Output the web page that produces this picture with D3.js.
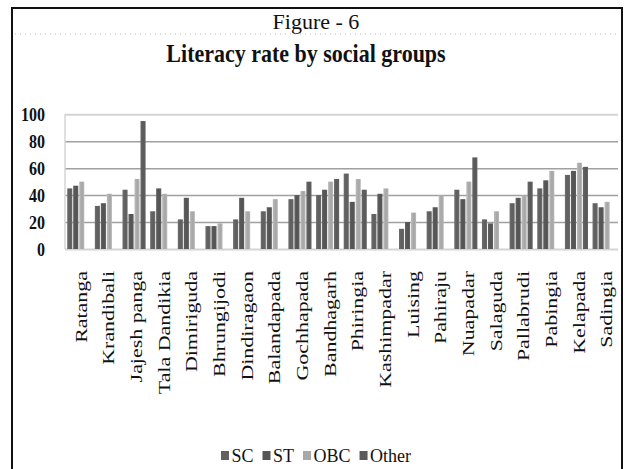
<!DOCTYPE html>
<html><head><meta charset="utf-8">
<script src="https://cdn.jsdelivr.net/npm/d3@7"></script>
<style>body{margin:0;background:#fff} svg{display:block}</style>
</head><body>
<svg id="c" width="625" height="469"></svg>
<script>
const categories = ["Ratanga","Krandibali","Jajesh panga","Tala Dandikia","Dimiriguda","Bhrungijodi","Dindiragaon","Balandapada","Gochhapada","Bandhagarh","Phiringia","Kashimpadar","Luising","Pahiraju","Nuapadar","Salaguda","Pallabrudi","Pabingia","Kelapada","Sadingia"];
const seriesNames = ["SC","ST","OBC","Other"];
const scValues = [45,32,44,28,22,17,22,28,37,40,56,26,15,28,44,22,34,45,55,34];
const stValues = [47,34,26,45,38,17,38,31,40,44,35,41,20,31,37,19,38,51,58,31];
const obcValues = [50,41,52,41,28,19,28,37,43,50,52,45,27,40,50,28,40,58,64,35];
const otherValues = [null,null,95,null,null,null,null,null,50,52,44,null,null,null,68,null,50,null,61,null];
const yTicks = [0,20,40,60,80,100];
const figureText = "Figure - 6";
const titleText = "Literacy rate by social groups";

const seriesValues = [scValues, stValues, obcValues, otherValues];
const seriesColors = ["#606060","#555555","#a8a8a8","#5a5a5a"];
const serif = "'Liberation Serif','Times New Roman',serif";

const svg = d3.select("#c");
const plot = {left:65, right:618, top:114.3, bottom:249};

// gradients
const defs = svg.append("defs");
seriesColors.forEach((c,i)=>{
  const g = defs.append("linearGradient").attr("id","g"+i).attr("x1","0").attr("x2","1").attr("y1","0").attr("y2","0");
  const lc = d3.color(c).brighter(0.35).formatHex();
  g.append("stop").attr("offset","0").attr("stop-color",lc);
  g.append("stop").attr("offset","0.45").attr("stop-color",c);
  g.append("stop").attr("offset","0.7").attr("stop-color",c);
  g.append("stop").attr("offset","1").attr("stop-color",lc);
});

// frame
svg.append("rect").attr("x",12).attr("y",8).attr("width",610).attr("height",480)
  .attr("fill","none").attr("stroke","#111").attr("stroke-width",2);

// header
svg.append("text").attr("x",316).attr("y",29).attr("text-anchor","middle")
  .style("font-family",serif).style("font-size","22px").attr("fill","#111").text(figureText);
svg.append("line").attr("x1",15).attr("x2",620).attr("y1",34).attr("y2",34)
  .attr("stroke","#bbb").attr("stroke-width",1).attr("stroke-dasharray","1,4");
svg.append("text").attr("transform","translate(306,62) scale(1,1.18)").attr("text-anchor","middle")
  .style("font-family",serif).style("font-size","22px").style("font-weight","bold").attr("fill","#111").text(titleText);

const x0 = d3.scaleBand().domain(categories).range([plot.left, plot.right]);
const x1 = d3.scaleBand().domain(seriesNames).range([1.8, 25.8]);
const y = d3.scaleLinear().domain([0,100]).range([plot.bottom, plot.top]);

// gridlines
const grid = svg.append("g").attr("transform",`translate(${plot.left},0)`)
  .call(d3.axisLeft(y).tickValues(yTicks).tickSize(-(plot.right-plot.left)).tickFormat(""));
grid.select(".domain").remove();
grid.selectAll(".tick line")
  .attr("stroke", d => (d===0||d===100) ? "#d4d4d4" : "#a0a0a0")
  .attr("stroke-width", d => (d===0||d===100) ? 2 : 1.5);
svg.append("line").attr("x1",plot.left).attr("x2",plot.left).attr("y1",plot.top).attr("y2",plot.bottom)
  .attr("stroke","#d4d4d4").attr("stroke-width",1.5);

// y labels
const yl = svg.append("g").attr("transform",`translate(${plot.left},0)`)
  .call(d3.axisLeft(y).tickValues(yTicks).tickSize(0).tickPadding(20));
yl.select(".domain").remove();
yl.selectAll(".tick text").style("font-family",serif).style("font-size","16px").style("font-weight","bold")
  .attr("fill","#111").attr("dy","0.34em").attr("transform","scale(1,1.17)");

// bars
const groups = svg.append("g").selectAll("g").data(categories).join("g")
  .attr("transform", c => `translate(${x0(c)},0)`);
groups.selectAll("rect").data((c,i) => seriesNames.map((s,j) => ({s, j, v: seriesValues[j][i]})).filter(d => d.v != null))
  .join("rect")
  .attr("x", d => x1(d.s)+0.4)
  .attr("width", x1.bandwidth()-0.9)
  .attr("y", d => y(d.v))
  .attr("height", d => y(0)-y(d.v))
  .attr("fill", d => `url(#g${d.j})`);

// x labels
const xl = svg.append("g").attr("transform",`translate(0,271)`)
  .call(d3.axisBottom(x0).tickSize(0).tickPadding(0));
xl.select(".domain").remove();
xl.selectAll(".tick text")
  .attr("y",0).attr("dy",0)
  .attr("transform",`translate(8,0) rotate(-90) scale(1.29,1)`)
  .attr("text-anchor","end")
  .style("font-family",serif).style("font-size","17px").attr("fill","#111");

// legend
const leg = svg.append("g");
let lx = 0;
seriesNames.forEach((s,i)=>{
  const g = leg.append("g").attr("transform",`translate(${lx},0)`);
  g.append("rect").attr("x",0).attr("y",451).attr("width",8).attr("height",9).attr("fill",seriesColors[i]);
  const t = g.append("text").attr("x",10.5).attr("y",462).style("font-family",serif).style("font-size","18px").attr("fill","#111").text(s);
  lx += 10.5 + t.node().getComputedTextLength() + 9;
});
lx -= 9;
leg.attr("transform",`translate(${316 - lx/2},0)`);
</script>
</body></html>
